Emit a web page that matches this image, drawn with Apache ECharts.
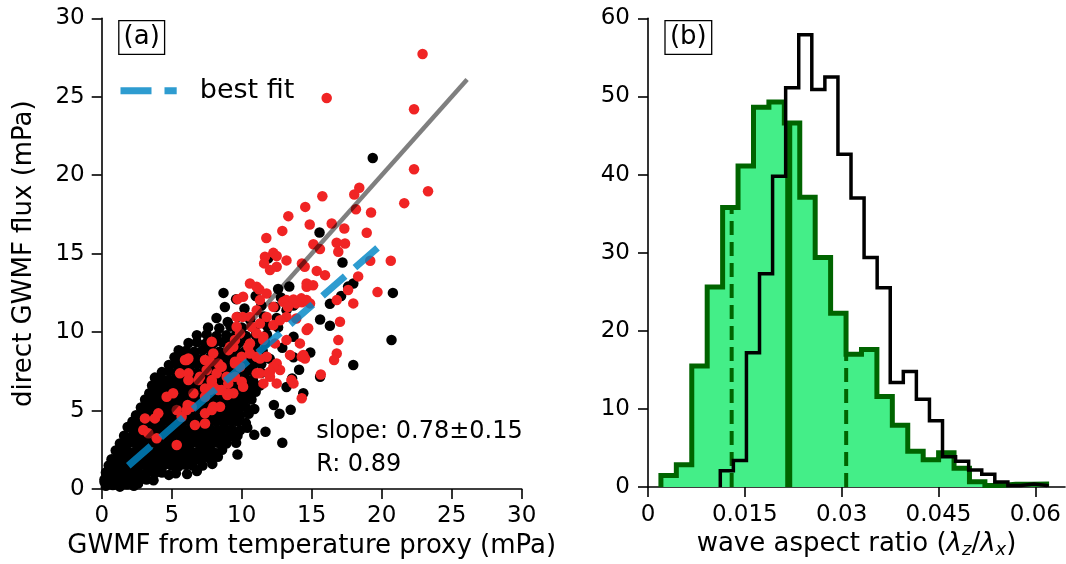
<!DOCTYPE html>
<html>
<head>
<meta charset="utf-8">
<script src="https://cdn.jsdelivr.net/npm/echarts@6/dist/echarts.min.js"></script>
<style>
  html, body { margin: 0; padding: 0; background: #fff; }
  #chart { width: 1066px; height: 564px; }
</style>
</head>
<body>
<div id="chart"></div>
<script>
// ---------- panel (a): GWMF scatter ----------
// all events (black) and selected events (red), [proxy, direct] in mPa
const blackPoints = [
  [0.3,0.2],[0.8,0.25],[1.3,0.15],[1.8,0.3],[2.3,0.2],[2.6,0.35],[0.2,0.45],
  [0.2,0.6],[0.7,0.7],[1.2,0.6],[1.7,0.65],[2.2,0.6],[2.7,0.7],[3.2,0.6],[3.7,0.55],
  [0.3,1.05],[0.8,1.0],[1.3,1.1],[1.8,1.0],[2.3,1.05],[2.8,0.95],[3.3,1.1],[3.8,1.0],[4.3,1.05],[4.8,0.9],[5.3,1.0],[6.1,0.95],[6.8,1.15],
  [0.5,1.5],[1.0,1.45],[1.5,1.55],[2.0,1.5],[2.5,1.45],[3.0,1.55],[3.5,1.5],[4.0,1.45],[4.5,1.55],[5.0,1.5],[5.5,1.45],[6.0,1.55],[6.5,1.5],[7.2,1.5],[7.9,1.6],
  [0.7,1.9],[1.2,2.0],[1.7,1.95],[2.2,1.9],[2.7,2.0],[3.2,1.95],[3.7,1.9],[4.2,2.0],[4.7,1.95],[5.2,1.9],[5.7,2.0],[6.2,1.95],[6.7,1.9],[7.2,2.0],[7.7,1.95],[8.3,2.05],
  [1.0,2.45],[1.5,2.4],[2.0,2.35],[2.5,2.45],[3.0,2.4],[3.5,2.35],[4.0,2.45],[4.5,2.4],[5.0,2.35],[5.5,2.45],[6.0,2.4],[6.5,2.35],[7.0,2.45],[7.5,2.4],[8.0,2.35],[8.6,2.5],[9.7,2.2],
  [1.3,2.9],[1.8,2.85],[2.3,2.95],[2.8,2.9],[3.3,2.85],[3.8,2.95],[4.3,2.9],[4.8,2.85],[5.3,2.95],[5.8,2.9],[6.3,2.85],[6.8,2.95],[7.3,2.9],[7.8,2.85],[8.3,2.95],[8.9,2.9],[9.6,2.95],[12.9,2.95],
  [1.6,3.4],[2.1,3.35],[2.6,3.3],[3.1,3.4],[3.6,3.35],[4.1,3.3],[4.6,3.4],[5.1,3.35],[5.6,3.3],[6.1,3.4],[6.6,3.35],[7.1,3.3],[7.6,3.4],[8.1,3.35],[8.6,3.3],[9.1,3.35],[9.7,3.4],[10.9,3.45],[11.7,3.65],
  [1.85,3.95],[2.3,3.8],[2.8,3.85],[3.3,3.8],[3.8,3.75],[4.3,3.85],[4.8,3.8],[5.3,3.75],[5.8,3.85],[6.3,3.8],[6.8,3.75],[7.3,3.85],[7.8,3.8],[8.3,3.75],[8.8,3.85],[9.3,3.8],[9.9,3.75],[10.4,3.9],
  [2.2,4.3],[2.7,4.25],[3.2,4.35],[3.7,4.3],[4.2,4.25],[4.7,4.35],[5.2,4.3],[5.7,4.25],[6.2,4.35],[6.7,4.3],[7.2,4.25],[7.7,4.35],[8.2,4.3],[8.7,4.25],[9.2,4.35],[9.7,4.3],[10.3,4.2],
  [2.45,4.7],[2.9,4.8],[3.4,4.75],[3.9,4.7],[4.4,4.8],[4.9,4.75],[5.4,4.7],[5.9,4.8],[6.4,4.75],[6.9,4.7],[7.4,4.8],[7.9,4.75],[8.4,4.7],[8.9,4.8],[9.4,4.75],[9.9,4.7],[10.5,4.8],[12.7,4.8],
  [2.8,5.2],[3.3,5.25],[3.8,5.15],[4.3,5.2],[4.8,5.25],[5.3,5.15],[5.8,5.2],[6.3,5.25],[6.8,5.15],[7.3,5.2],[7.8,5.25],[8.3,5.15],[8.8,5.2],[9.3,5.25],[9.8,5.15],[10.3,5.2],[10.9,5.1],[12.3,5.35],[13.5,5.05],
  [3.1,5.7],[3.6,5.65],[4.1,5.6],[4.6,5.7],[5.1,5.65],[5.6,5.6],[6.1,5.7],[6.6,5.65],[7.1,5.6],[7.6,5.7],[8.1,5.65],[8.6,5.6],[9.1,5.7],[9.6,5.65],[10.1,5.6],[10.7,5.7],
  [3.4,6.1],[3.9,6.15],[4.4,6.05],[4.9,6.1],[5.4,6.15],[5.9,6.05],[6.4,6.1],[6.9,6.15],[7.4,6.05],[7.9,6.1],[8.4,6.15],[8.9,6.05],[9.4,6.1],[9.9,6.15],[10.4,6.05],[11.0,6.2],[14.4,6.1],
  [3.6,6.6],[4.1,6.55],[4.6,6.5],[5.1,6.6],[5.6,6.55],[6.1,6.5],[6.6,6.6],[7.1,6.55],[7.6,6.5],[8.1,6.6],[8.6,6.55],[9.1,6.5],[9.6,6.6],[10.1,6.55],[10.6,6.5],[11.3,6.6],[13.2,6.5],
  [3.8,7.1],[4.3,7.0],[4.8,6.95],[5.3,7.05],[5.8,7.0],[6.3,6.95],[6.8,7.05],[7.3,7.0],[7.8,6.95],[8.3,7.05],[8.8,7.0],[9.3,6.95],[9.8,7.05],[10.3,7.0],[10.8,6.95],[13.6,7.05],[15.6,7.15],
  [4.3,7.45],[4.8,7.5],[5.3,7.4],[5.8,7.45],[6.3,7.5],[6.8,7.4],[7.3,7.45],[7.8,7.5],[8.3,7.4],[8.8,7.45],[9.3,7.5],[9.8,7.4],[10.3,7.45],[10.8,7.5],[11.4,7.4],[14.1,7.6],
  [4.8,7.9],[5.3,7.95],[5.8,7.85],[6.3,7.9],[6.8,7.95],[7.3,7.85],[7.8,7.9],[8.3,7.95],[8.8,7.85],[9.3,7.9],[9.8,7.95],[10.3,7.85],[10.8,7.9],[11.4,7.95],[17.97,7.9],
  [5.2,8.4],[5.7,8.3],[6.2,8.35],[6.7,8.4],[7.2,8.3],[7.7,8.35],[8.2,8.4],[8.7,8.3],[9.2,8.35],[9.7,8.4],[10.2,8.3],[10.7,8.35],[11.3,8.4],[12.0,8.3],[13.7,8.4],
  [5.5,8.85],[6.0,8.8],[6.6,8.75],[7.2,8.85],[7.8,8.8],[8.4,8.75],[9.0,8.85],[9.6,8.8],[10.2,8.75],[10.8,8.85],[11.5,8.8],[12.9,9.0],[14.9,8.7],
  [6.2,9.3],[6.8,9.35],[7.4,9.25],[8.0,9.3],[8.6,9.35],[9.2,9.25],[9.8,9.3],[10.4,9.35],[11.0,9.25],[11.7,9.3],[13.7,9.7],[20.7,9.5],
  [6.8,9.8],[7.5,9.85],[8.2,9.75],[8.9,9.8],[9.6,9.85],[10.3,9.75],[11.0,9.8],[11.8,9.85],
  [7.6,10.3],[8.4,10.25],[9.2,10.35],[10.0,10.3],[10.9,10.25],[11.8,10.4],[12.6,10.3],[16.3,10.4],
  [8.2,10.9],[9.0,10.65],[9.7,10.97],[10.6,10.8],[11.6,11.0],[12.5,10.9],[15.6,10.8],
  [8.8,11.6],[10.2,11.5],[11.4,11.7],[12.4,11.6],[13.2,11.4],[13.7,11.7],[16.3,11.8],
  [9.6,12.1],[11.0,12.3],[12.8,12.2],[8.7,12.5],[12.6,12.75],[17.1,12.3],[17.6,12.9],[20.8,12.5],[13.4,12.9],
  [11.9,14.7],[17.2,14.44],[15.56,16.35],[19.36,21.1],[17.97,13.1]
];

const redPoints = [
  [22.92,27.72],[16.07,24.92],[22.31,24.2],[22.31,20.38],[23.31,18.98],[21.61,18.22],
  [18.4,19.2],[18.04,18.77],[15.76,18.66],[14.54,17.98],[13.33,17.39],[18.16,17.83],[19.24,17.62],
  [12.9,16.45],[14.86,16.86],[16.43,16.92],[17.33,16.6],[18.93,16.33],[11.76,16.0],
  [15.12,15.6],[15.59,15.29],[16.78,15.69],[17.38,15.65],[16.9,15.12],[12.26,15.05],[12.5,14.85],
  [20.65,14.55],[19.18,14.55],[18.32,13.55],[11.66,14.8],[12.5,14.16],[13.2,14.57],
  [14.3,14.38],[14.5,14.16],[15.36,13.9],[15.95,13.63],[11.6,14.38],[12.02,13.95],
  [19.7,12.55],[17.97,11.83],[17.6,12.68],[16.79,12.04],[17.02,10.66],[16.9,9.49],[16.79,8.64],
  [15.65,7.3],[14.29,8.43],[14.52,8.32],[13.55,6.94],[14.29,5.78],[12.5,8.0],[12.74,7.58],
  [12.02,7.15],[11.55,6.73],[11.07,7.37],[11.07,8.43],[11.79,8.43],[10.59,9.28],[11.07,9.92],
  [9.88,9.92],[9.64,10.34],[10.59,10.97],[11.07,11.4],[11.79,10.97],[12.26,11.61],[12.97,11.93],
  [13.2,10.97],[13.9,11.83],[14.26,12.15],[14.64,12.89],[14.88,11.83],[9.7,12.1],[10.1,12.25],
  [10.59,13.1],[11.07,12.89],[9.64,10.97],[9.4,9.06],[14.64,13.1],[15.1,12.99],[11.26,12.72],
  [11.78,12.46],[11.3,12.04],[13.2,12.04],[13.7,12.08],[13.3,11.6],[14.3,11.9],[14.64,12.04],
  [10.07,10.97],[10.7,10.34],[11.3,10.55],[11.55,9.7],[12.26,10.45],[12.74,10.76],[13.9,10.87],
  [14.64,10.13],[13.2,9.49],[14.16,9.28],[12.38,9.28],[6.07,8.22],[7.86,9.38],[7.97,8.64],
  [7.74,8.11],[9.16,9.06],[9.52,8.11],[9.88,7.79],[10.47,9.06],[10.59,8.64],[11.54,9.49],
  [11.31,8.32],[12.26,7.79],[12.02,7.47],[13.45,8.54],[14.4,8.54],[5.59,7.37],[6.19,7.37],
  [7.02,7.15],[7.5,7.58],[7.86,6.83],[8.21,7.37],[7.97,6.52],[8.33,6.31],[9.04,6.73],
  [9.52,7.15],[10.0,6.83],[11.3,7.37],[11.9,7.37],[12.5,6.73],[13.7,6.73],[9.4,6.1],[10.1,6.52],
  [6.55,6.1],[7.38,5.88],[5.1,6.1],[7.38,8.22],[5.95,8.22],[6.19,8.32],[6.9,6.94],[6.19,6.94],
  [4.64,5.88],[4.04,4.82],[3.8,4.5],[3.09,4.5],[2.97,3.76],[3.33,3.55],[3.93,3.23],[5.36,2.8],
  [5.36,5.03],[5.71,4.6],[6.07,5.03],[6.43,5.24],[6.66,4.08],[7.38,4.18],[7.97,5.24],[8.45,5.24],
  [8.57,6.31],[9.05,6.1],[8.93,7.15],[9.52,8.0],[10.0,8.43],[8.33,8.0],[8.57,7.79],[7.38,6.41],
  [7.74,6.31],[7.86,6.94],[9.05,8.85],[9.52,9.49],[7.38,4.82],[7.86,5.03],[6.14,5.35],[8.97,5.99],
  [14.75,10.24],[16.6,8.22]
];

// one-to-one reference line and least-squares fit
const oneToOne = [0, 26.1];
const fitSlope = 0.78;
const fitIntercept = 0.0;
const fitRange = [1.9, 19.8];
const fitText = ['slope: 0.78\u00b10.15', 'R: 0.89'];

// ---------- panel (b): aspect-ratio histograms ----------
const greenBinStart = 0.0020;
const greenBinWidth = 0.00239;
const greenCounts = [1.5, 2.85, 15.5, 25.6, 35.8, 41.1, 48.6, 49.3, 46.6, 37.1, 29.4, 22.25, 17.0,
                     17.6, 11.6, 7.9, 4.6, 3.5, 4.4, 2.4, 0.7, 0.2, 0.35, 0.35, 0.4];
const blackBinStart = 0.0112;
const blackBinWidth = 0.002025;
const blackCounts = [2.1, 3.4, 17.2, 27.3, 39.8, 51.1, 57.9, 50.9, 52.5, 42.6, 37.0, 29.4, 25.5,
                     13.4, 14.8, 11.25, 8.5, 3.9, 3.3, 2.2, 1.65, 0.64, 0.2, 0.4, 0.2];
// 25th percentile, median, 75th percentile of the green distribution
const greenQuartiles = [0.01296, 0.0218, 0.0307];

const bTickValues = [0, 0.015, 0.03, 0.045, 0.06];
const bTickLabels = ['0', '0.015', '0.03', '0.045', '0.06'];

// ---------- helpers ----------
function stepOutline(start, width, counts) {
  const pts = [[start, 0]];
  counts.forEach((c, i) => pts.push([start + i * width, c]));
  const end = start + counts.length * width;
  pts.push([end, counts[counts.length - 1]]);
  pts.push([end, 0]);
  return pts;
}
function heightAt(x, start, width, counts) {
  const i = Math.floor((x - start) / width);
  return counts[Math.max(0, Math.min(counts.length - 1, i))];
}

const FONT = 'DejaVu Sans';
const BLUE = 'rgba(0,134,198,0.82)';
const DKGREEN = '#006400';

const axisCommon = {
  axisLine: { show: true, lineStyle: { color: '#000', width: 1.6 } },
  axisTick: { show: true, inside: false, length: 10, lineStyle: { color: '#000', width: 1.6 } },
  splitLine: { show: false },
  axisLabel: { color: '#000', fontFamily: FONT, fontSize: 23 }
};

const chart = echarts.init(document.getElementById('chart'), null, { renderer: 'canvas' });

const option = {
  animation: false,
  backgroundColor: '#fff',
  grid: [
    { left: 101.7, top: 18.3, width: 420, height: 470.7 },
    { left: 648, top: 18.3, width: 417, height: 470.7 }
  ],
  xAxis: [
    {
      gridIndex: 0, type: 'value', min: 0, max: 30, interval: 5,
      name: 'GWMF from temperature proxy (mPa)', nameLocation: 'middle', nameGap: 43,
      nameTextStyle: { color: '#000', fontFamily: FONT, fontSize: 26 },
      axisLine: axisCommon.axisLine, axisTick: axisCommon.axisTick, splitLine: axisCommon.splitLine,
      axisLabel: Object.assign({}, axisCommon.axisLabel, { margin: 16 })
    },
    {
      gridIndex: 1, type: 'value', min: 0, max: 0.0646,
      name: '{a|wave aspect ratio (}{g|\u03bb}{s|z}{a|/}{g|\u03bb}{s|x}{a|)}',
      nameLocation: 'middle', nameGap: 41,
      nameTextStyle: {
        color: '#000', fontFamily: FONT, fontSize: 26,
        rich: {
          a: { fontFamily: FONT, fontSize: 26, color: '#000', lineHeight: 30 },
          g: { fontFamily: FONT, fontSize: 26, color: '#000', fontStyle: 'italic', lineHeight: 30 },
          s: { fontFamily: FONT, fontSize: 18, color: '#000', fontStyle: 'italic', lineHeight: 16, verticalAlign: 'bottom' }
        }
      },
      axisLine: axisCommon.axisLine,
      axisTick: Object.assign({}, axisCommon.axisTick, { customValues: bTickValues }),
      splitLine: axisCommon.splitLine,
      axisLabel: Object.assign({}, axisCommon.axisLabel, {
        margin: 16,
        customValues: bTickValues,
        formatter: function (v) {
          const i = bTickValues.findIndex(t => Math.abs(t - v) < 1e-9);
          return i >= 0 ? bTickLabels[i] : '';
        }
      })
    }
  ],
  yAxis: [
    {
      gridIndex: 0, type: 'value', min: 0, max: 30, interval: 5,
      name: 'direct GWMF flux (mPa)', nameLocation: 'middle', nameGap: 64,
      nameTextStyle: { color: '#000', fontFamily: FONT, fontSize: 26 },
      axisLine: axisCommon.axisLine, axisTick: axisCommon.axisTick, splitLine: axisCommon.splitLine,
      axisLabel: Object.assign({}, axisCommon.axisLabel, { margin: 17 })
    },
    {
      gridIndex: 1, type: 'value', min: 0, max: 60, interval: 10,
      axisLine: axisCommon.axisLine, axisTick: axisCommon.axisTick, splitLine: axisCommon.splitLine,
      axisLabel: Object.assign({}, axisCommon.axisLabel, { margin: 18 })
    }
  ],
  series: [
    // panel (a)
    {
      type: 'scatter', xAxisIndex: 0, yAxisIndex: 0, data: blackPoints,
      symbol: 'circle', symbolSize: 10.5, itemStyle: { color: '#000', opacity: 1 }, silent: true
    },
    {
      type: 'scatter', xAxisIndex: 0, yAxisIndex: 0, data: redPoints,
      symbol: 'circle', symbolSize: 10.5, itemStyle: { color: '#f02424', opacity: 1 }, silent: true
    },
    {
      type: 'line', xAxisIndex: 0, yAxisIndex: 0,
      data: [[oneToOne[0], oneToOne[0]], [oneToOne[1], oneToOne[1]]],
      showSymbol: false, silent: true,
      lineStyle: { color: 'rgba(0,0,0,0.5)', width: 4.5, cap: 'butt' }
    },
    {
      type: 'line', xAxisIndex: 0, yAxisIndex: 0,
      data: fitRange.map(x => [x, fitSlope * x + fitIntercept]),
      showSymbol: false, silent: true,
      lineStyle: { color: BLUE, width: 7, type: [30, 13], cap: 'butt' }
    },
    // panel (b)
    {
      type: 'line', xAxisIndex: 1, yAxisIndex: 1, step: 'end',
      data: stepOutline(greenBinStart, greenBinWidth, greenCounts),
      showSymbol: false, silent: true,
      lineStyle: { color: DKGREEN, width: 5, join: 'miter' },
      areaStyle: { color: '#44ee88', opacity: 1 }
    },
    {
      type: 'line', xAxisIndex: 1, yAxisIndex: 1,
      data: [[greenQuartiles[0], 0], [greenQuartiles[0], heightAt(greenQuartiles[0], greenBinStart, greenBinWidth, greenCounts)]],
      showSymbol: false, silent: true,
      lineStyle: { color: DKGREEN, width: 4, type: [14, 7], cap: 'butt' }
    },
    {
      type: 'line', xAxisIndex: 1, yAxisIndex: 1,
      data: [[greenQuartiles[1], 0], [greenQuartiles[1], heightAt(greenQuartiles[1], greenBinStart, greenBinWidth, greenCounts)]],
      showSymbol: false, silent: true,
      lineStyle: { color: DKGREEN, width: 7, cap: 'butt' }
    },
    {
      type: 'line', xAxisIndex: 1, yAxisIndex: 1,
      data: [[greenQuartiles[2], 0], [greenQuartiles[2], heightAt(greenQuartiles[2], greenBinStart, greenBinWidth, greenCounts)]],
      showSymbol: false, silent: true,
      lineStyle: { color: DKGREEN, width: 4, type: [14, 7], cap: 'butt' }
    },
    {
      type: 'line', xAxisIndex: 1, yAxisIndex: 1, step: 'end',
      data: stepOutline(blackBinStart, blackBinWidth, blackCounts),
      showSymbol: false, silent: true,
      lineStyle: { color: '#000', width: 3.5, join: 'miter' }
    }
  ],
  graphic: [
    // panel tags
    { type: 'rect', shape: { x: 118.8, y: 20.7, width: 45.8, height: 33.6 },
      style: { fill: '#fff', stroke: '#000', lineWidth: 1.3 }, z: 10 },
    { type: 'text', x: 141.7, y: 37.5, z: 11,
      style: { text: '(a)', font: '26px "DejaVu Sans"', fill: '#000', textAlign: 'center', textVerticalAlign: 'middle' } },
    { type: 'rect', shape: { x: 665, y: 20.7, width: 46.7, height: 33.6 },
      style: { fill: '#fff', stroke: '#000', lineWidth: 1.3 }, z: 10 },
    { type: 'text', x: 688.3, y: 37.5, z: 11,
      style: { text: '(b)', font: '26px "DejaVu Sans"', fill: '#000', textAlign: 'center', textVerticalAlign: 'middle' } },
    // legend for the fitted line
    { type: 'line', shape: { x1: 120.5, y1: 90.8, x2: 176.7, y2: 90.8 }, z: 10,
      style: { stroke: BLUE, lineWidth: 7, lineDash: [31, 13] } },
    { type: 'text', x: 199.8, y: 90.5, z: 11,
      style: { text: 'best fit', font: '27px "DejaVu Sans"', fill: '#000', textAlign: 'left', textVerticalAlign: 'middle' } },
    // fit statistics
    { type: 'text', x: 316.2, y: 431.5, z: 11,
      style: { text: fitText[0], font: '24px "DejaVu Sans"', fill: '#000', textAlign: 'left', textVerticalAlign: 'middle' } },
    { type: 'text', x: 316.2, y: 465, z: 11,
      style: { text: fitText[1], font: '24px "DejaVu Sans"', fill: '#000', textAlign: 'left', textVerticalAlign: 'middle' } }
  ]
};

chart.setOption(option);
</script>
</body>
</html>
